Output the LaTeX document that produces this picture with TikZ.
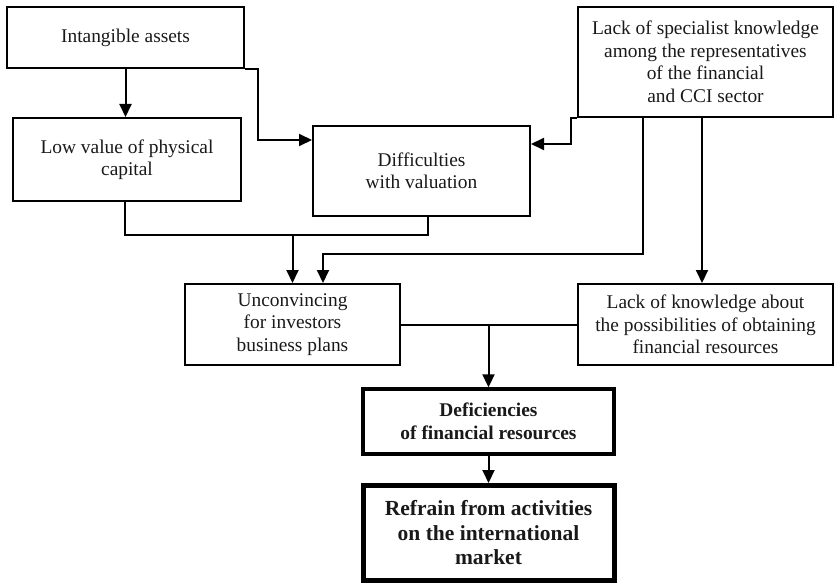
\documentclass[tikz,border=0pt]{standalone}
\usepackage{fontspec}
\setmainfont{Liberation Serif}
\usetikzlibrary{arrows.meta}
\begin{document}
\begin{tikzpicture}[x=1pt,y=-1pt,
  box/.style={draw, line width=2pt, align=center, inner sep=0pt,
    font=\fontsize{19.4}{22.5}\selectfont, text=black!90},
  boldbox/.style={box, font=\fontsize{19.4}{23}\selectfont\bfseries},
  bigbox/.style={box, font=\fontsize{21.5}{24.5}\selectfont\bfseries},
  conn/.style={line width=2pt},
  arr/.style={conn, -{Triangle[length=13pt,width=12pt]}}]
\useasboundingbox (0,0) rectangle (835,583);
\node[box, minimum width=237pt, minimum height=61pt] (A) at (125.5,37.5) {Intangible assets};
\node[box, minimum width=228pt, minimum height=83pt] (B) at (127,159.5) {Low value of physical\\capital};
\node[box, minimum width=217pt, minimum height=90pt] (C) at (421.5,171) {Difficulties\\with valuation};
\node[box, minimum width=255pt, minimum height=110pt] (D) at (705.5,62) {Lack of specialist knowledge\\among the representatives\\of the financial\\and CCI sector};
\node[box, minimum width=215pt, minimum height=81pt] (E) at (292.5,324.5) {Unconvincing\\for investors\\business plans};
\node[box, minimum width=255pt, minimum height=81pt] (F) at (705.5,324.5) {Lack of knowledge about\\the possibilities of obtaining\\financial resources};
\node[boldbox, line width=3.4pt, minimum width=251pt, minimum height=65pt] (G) at (488.5,421.5) {Deficiencies\\of financial resources};
\node[bigbox, line width=5pt, minimum width=251pt, minimum height=95pt] (H) at (488.5,533) {Refrain from activities\\on the international\\market};

\draw[arr] (A.south) -- (A.south |- B.north);
\draw[arr] (A.south east) -- ++(13,0) |- ([yshift=-15pt]C.north west);
\draw[arr] (D.south west) -- ++(-6,0) |- ([yshift=-19pt]C.north east);
\draw[arr] ([xshift=66pt]D.south west) -- ++(0,136) -| ([xshift=139pt]E.north west);
\draw[arr] ([xshift=125pt]D.south west) -- ([xshift=125pt]F.north west);
\coordinate (m1) at (292.5,235);
\draw[conn] ([xshift=-2pt]B.south) |- (m1) -| ([xshift=6pt]C.south);
\draw[arr] (m1) -- (m1 |- E.north);
\draw[conn] (E.east) -- (F.west);
\draw[arr] (E.east -| G.north) -- (G.north);
\draw[arr] (G.south) -- (H.north);
\end{tikzpicture}
\end{document}
